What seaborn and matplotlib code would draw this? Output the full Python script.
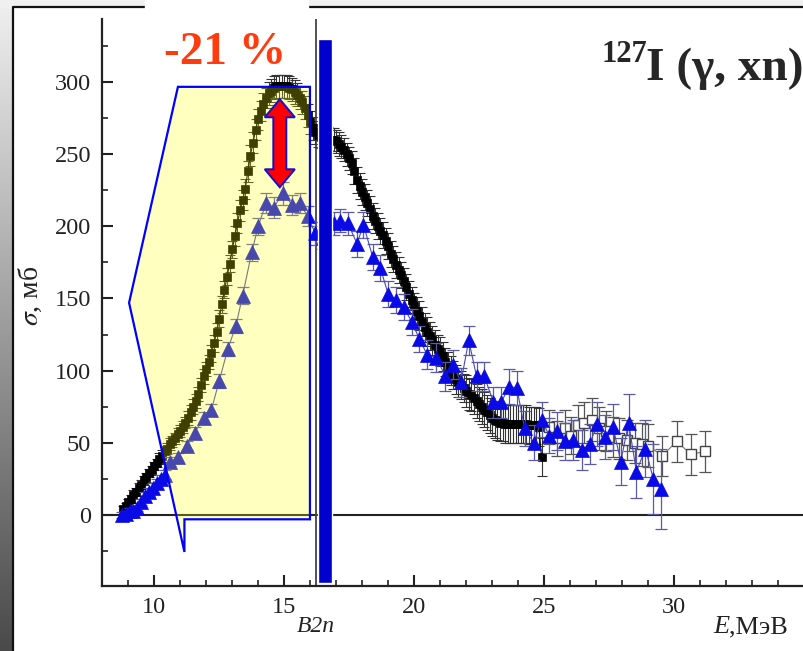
import numpy as np
import matplotlib
matplotlib.use('Agg')
import matplotlib.pyplot as plt
from matplotlib.patches import Polygon, Rectangle
from matplotlib.lines import Line2D
from matplotlib.colors import LinearSegmentedColormap
from matplotlib.ticker import MultipleLocator, FixedLocator
import seaborn as sns

# --- data (E in MeV, sigma in mb) ---
# black filled squares
e_black = [8.8, 8.9, 9.0, 9.1, 9.2, 9.3, 9.4, 9.5, 9.6, 9.7,
           9.8, 9.9, 10.0, 10.1, 10.2, 10.3, 10.4, 10.5, 10.6, 10.7,
           10.8, 10.9, 11.0, 11.1, 11.2, 11.3, 11.4, 11.5, 11.6, 11.7,
           11.8, 11.9, 12.0, 12.1, 12.2, 12.3, 12.4, 12.5, 12.6, 12.7,
           12.8, 12.9, 13.0, 13.1, 13.2, 13.3, 13.4, 13.5, 13.6, 13.7,
           13.8, 13.9, 14.0, 14.1, 14.2, 14.3, 14.4, 14.5, 14.6, 14.7,
           14.8, 14.9, 15.0, 15.1, 15.2, 15.3, 15.4, 15.5, 15.6, 15.7,
           15.8, 15.9, 16.0, 16.1, 16.2, 16.3, 16.4, 16.5, 16.6, 16.7,
           16.8, 16.9, 17.0, 17.1, 17.2, 17.3, 17.4, 17.5, 17.6, 17.7,
           17.8, 17.9, 18.0, 18.1, 18.2, 18.3, 18.4, 18.5, 18.6, 18.7,
           18.8, 18.9, 19.0, 19.1, 19.2, 19.3, 19.4, 19.5, 19.6, 19.7,
           19.8, 19.9, 20.0, 20.1, 20.2, 20.3, 20.4, 20.5, 20.6, 20.7,
           20.8, 20.9, 21.0, 21.1, 21.2, 21.3, 21.4, 21.5, 21.6, 21.7,
           21.8, 21.9, 22.0, 22.1, 22.2, 22.3, 22.4, 22.5, 22.6, 22.7,
           22.8, 22.9, 23.0, 23.1, 23.2, 23.3, 23.4, 23.5, 23.6, 23.7,
           23.8, 23.9, 24.0, 24.1, 24.2, 24.3, 24.4, 24.5, 24.6, 24.7,
           24.8, 24.9]
s_black = [4, 6, 9, 11, 14, 16, 19, 21, 24, 26,
           29, 31, 34, 36, 39, 41, 44, 46, 49, 51,
           53, 56, 58, 61, 64, 67, 71, 75, 79, 84,
           90, 96, 101, 106, 112, 119, 127, 136, 146, 156,
           165, 174, 184, 193, 202, 211, 218, 226, 238, 249,
           258, 267, 274, 280, 285, 289, 292, 294, 296, 297,
           297, 297, 297, 297, 296, 295, 293, 291, 289, 286,
           282, 277, 272, 268, 265, 263, 262, 262, 261, 261,
           260, 260, 259, 257, 255, 253, 250, 247, 244, 238,
           232, 228, 224, 220, 216, 212, 207, 204, 200, 197,
           194, 190, 186, 181, 177, 173, 170, 166, 162, 158,
           153, 149, 145, 141, 138, 134, 130, 127, 124, 121,
           118, 115, 113, 110, 106, 103, 100, 97, 94, 92,
           90, 88, 86, 84, 83, 81, 79, 77, 75, 73,
           71, 69, 67, 66, 65, 64, 64, 63, 63, 63,
           63, 63, 63, 63, 63, 63, 62, 62, 62, 62,
           61, 40]
err_black = [2, 2, 2, 3, 3, 3, 3, 3, 3, 3,
             3, 3, 3, 3, 4, 4, 4, 4, 4, 4,
             4, 4, 4, 4, 4, 5, 5, 5, 5, 5,
             5, 5, 5, 5, 6, 6, 6, 6, 6, 6,
             6, 6, 6, 7, 7, 7, 7, 7, 7, 7,
             7, 7, 7, 7, 7, 7, 8, 8, 8, 8,
             8, 8, 8, 8, 8, 8, 8, 8, 8, 8,
             8, 8, 8, 8, 8, 8, 8, 8, 8, 8,
             8, 8, 8, 8, 8, 8, 8, 8, 8, 9,
             9, 9, 9, 9, 9, 9, 9, 9, 9, 9,
             9, 9, 9, 9, 9, 9, 9, 9, 9, 9,
             9, 9, 9, 10, 10, 10, 10, 10, 10, 10,
             10, 10, 10, 10, 10, 10, 10, 10, 10, 10,
             10, 10, 11, 11, 11, 11, 12, 12, 12, 12,
             12, 12, 12, 13, 13, 13, 13, 13, 13, 13,
             13, 13, 13, 13, 13, 13, 13, 13, 13, 13,
             13, 13]

# open squares
e_open = [25.2, 25.5, 25.8, 26.05, 26.3, 26.55, 26.85, 27.1, 27.4, 27.65,
          27.9, 28.2, 28.5, 28.75, 29.0, 29.55, 30.1, 30.65, 31.2]
s_open = [61, 53, 60, 55, 62, 64, 66, 60, 58, 54,
          53, 52, 50, 49, 48, 41, 51, 42, 44]
err_open = [12, 12, 13, 13, 14, 14, 15, 15, 14, 14,
            14, 14, 14, 15, 15, 14, 14, 14, 14]

# blue triangles
e_tri = [8.75, 8.9, 9.05, 9.2, 9.35, 9.5, 9.65, 9.8, 9.95, 10.1,
         10.25, 10.4, 10.6, 10.9, 11.25, 11.55, 11.9, 12.2, 12.5, 12.83,
         13.14, 13.4, 13.75, 14.0, 14.3, 14.6, 14.95, 15.3, 15.6, 15.9,
         16.2, 16.5, 16.9, 17.15, 17.45, 17.8, 18.05, 18.4, 18.7, 19.0,
         19.3, 19.6, 19.9, 20.2, 20.5, 20.85, 21.2, 21.5, 21.8, 22.1,
         22.4, 22.7, 23.05, 23.35, 23.65, 23.95, 24.25, 24.6, 24.9, 25.2,
         25.5, 25.8, 26.1, 26.45, 26.75, 27.05, 27.35, 27.65, 27.95, 28.25,
         28.55, 28.9, 29.2, 29.5]
s_tri = [0, 1, 3, 3, 5, 9, 13, 16, 19, 22,
         25, 28, 37, 40, 48, 57, 67, 73, 93, 115,
         131, 152, 182, 200, 216, 213, 223, 215, 216, 207,
         195, 192, 202, 204, 202, 188, 201, 179, 171, 153,
         149, 144, 134, 122, 111, 109, 96, 104, 92, 121,
         96, 96, 78, 78, 89, 88, 60, 50, 66, 55,
         58, 51, 52, 45, 49, 63, 54, 61, 37, 64,
         30, 46, 25, 18]
err_tri = [2, 2, 2, 2, 2, 2, 3, 3, 3, 3,
           3, 3, 3, 3, 3, 4, 4, 4, 5, 5,
           5, 6, 6, 6, 7, 7, 8, 7, 7, 7,
           8, 8, 8, 8, 8, 9, 9, 9, 9, 9,
           9, 9, 9, 9, 10, 10, 10, 10, 10, 10,
           10, 10, 11, 11, 12, 12, 12, 12, 12, 12,
           13, 13, 14, 14, 14, 15, 15, 16, 16, 20,
           18, 20, 24, 28]

# annotation geometry (data units)
b2n = 16.24
bar_left, bar_right = 16.30, 16.84
bar_bottom, bar_top = -47, 330
poly_e = [10.91, 15.99, 15.99, 11.16, 11.16, 9.03]
poly_s = [296.6, 296.6, -3.0, -3.0, -25.6, 147.0]
arrow_x, arrow_top, arrow_bottom = 14.83, 288, 227

W, H = 804, 651

sns.set_style('ticks')
plt.rcParams['font.family'] = ['Liberation Serif', 'DejaVu Serif']
plt.rcParams['mathtext.fontset'] = 'stix'

fig = plt.figure(figsize=(W / 100, H / 100), dpi=100)

# slide background: grey strip at left and top, black frame
gax = fig.add_axes([0, 0, 13 / W, 1], zorder=-1)
grad = np.linspace(0, 1, 256).reshape(-1, 1)
gax.imshow(grad, aspect='auto', cmap=LinearSegmentedColormap.from_list('g', ['#f0f0f0', '#4a4a4a']))
gax.axis('off')
fig.add_artist(Rectangle((0, 1 - 7 / H), 1, 7 / H, transform=fig.transFigure,
                         color='#f0f0f0', zorder=1))
fig.add_artist(Line2D([13 / W, 13 / W, 1], [0, 1 - 7 / H, 1 - 7 / H],
                      transform=fig.transFigure, color='#111', lw=1.6, zorder=2))
fig.add_artist(Rectangle((145 / W, 1 - 16 / H), 163 / W, 16 / H, transform=fig.transFigure,
                         color='white', zorder=3))

ax = fig.add_axes([102.3 / W, 1 - 585.7 / H, (W - 102.3) / W, (585.7 - 19) / H])
ax.set_xlim(8, 35)
ax.set_ylim(-49, 343.6)

ax.axhline(0, color='#222', lw=1.5, zorder=1)
ax.axvline(b2n, color='#444', lw=1.3, zorder=1)

# black squares
ax.errorbar(e_black, s_black, yerr=err_black, fmt='none', ecolor='#333',
            elinewidth=0.8, capsize=3.5, capthick=0.8, zorder=2)
sns.lineplot(x=e_black, y=s_black, ax=ax, color='black', lw=0.8, marker='s',
             markersize=6.2, markeredgecolor='black', markeredgewidth=0.5, zorder=3)

# open squares
ax.errorbar(e_open, s_open, yerr=err_open, fmt='none', ecolor='#555',
            elinewidth=0.9, capsize=4, capthick=0.9, zorder=2)
sns.lineplot(x=e_open, y=s_open, ax=ax, color='#777', lw=0.8, marker='s',
             markersize=7, markerfacecolor='white', markeredgecolor='#444',
             markeredgewidth=1, zorder=3)

# blue triangles
ax.errorbar(e_tri, s_tri, yerr=err_tri, fmt='none', ecolor='#5a5aa8',
            elinewidth=0.9, capsize=4, capthick=0.9, zorder=3)
sns.lineplot(x=e_tri, y=s_tri, ax=ax, color='#4b4bb0', lw=0.8, marker='^',
             markersize=9.5, markerfacecolor='#0a0ae6', markeredgecolor='#0a0ae6',
             markeredgewidth=0.5, zorder=3)

# yellow region with blue outline
verts = np.column_stack([poly_e, poly_s])
ax.add_patch(Polygon(verts, closed=True, facecolor='yellow', alpha=0.25,
                     edgecolor='none', zorder=4))
ax.add_patch(Polygon(verts, closed=True, fill=False, edgecolor='#0000ff',
                     lw=1.6, zorder=5))

# thick blue bar at B2n
ax.bar((bar_left + bar_right) / 2, bar_top - bar_bottom, bottom=bar_bottom,
       width=bar_right - bar_left, color='#0000cc', zorder=5)

# red double arrow
hw, sw, hl = 0.58, 0.25, 12.5
ax_ = [arrow_x, arrow_x + hw, arrow_x + sw, arrow_x + sw, arrow_x + hw,
       arrow_x, arrow_x - hw, arrow_x - sw, arrow_x - sw, arrow_x - hw]
ay_ = [arrow_top, arrow_top - hl, arrow_top - hl, arrow_bottom + hl, arrow_bottom + hl,
       arrow_bottom, arrow_bottom + hl, arrow_bottom + hl, arrow_top - hl, arrow_top - hl]
ax.add_patch(Polygon(np.column_stack([ax_, ay_]), closed=True, facecolor='#ff0000',
                     edgecolor='#1010d0', lw=1.4, zorder=6))

# axes styling
sns.despine(ax=ax)
for s in ['left', 'bottom']:
    ax.spines[s].set_linewidth(1.6)
    ax.spines[s].set_color('#222')
ax.xaxis.set_major_locator(FixedLocator([10, 15, 20, 25, 30]))
ax.xaxis.set_minor_locator(MultipleLocator(1))
ax.yaxis.set_major_locator(MultipleLocator(50))
ax.yaxis.set_minor_locator(MultipleLocator(25))
ax.tick_params(which='major', direction='in', length=8, width=1.5, labelsize=17.5,
               pad=8, color='#222', labelcolor='#222')
ax.tick_params(which='minor', direction='in', length=4.5, width=1.2, color='#222')
ax.set_xlabel('')
ax.set_ylabel('')

# texts
fig.text(225 / W, 1 - 64 / H, '-21 %', color='#ff3c10', fontsize=34,
         fontweight='bold', ha='center', va='baseline', zorder=10)
fig.text(602 / W, 1 - 62 / H, '127', fontsize=22, fontweight='bold',
         ha='left', va='baseline')
fig.text(646 / W, 1 - 80 / H, 'I (γ, xn)', fontsize=34, fontweight='bold',
         ha='left', va='baseline')
fig.text(316 / W, 1 - 627 / H, 'B2n', style='italic', fontsize=17,
         ha='center', va='center', color='#222')
fig.text(713 / W, 1 - 627 / H, 'E', style='italic', fontsize=19,
         ha='left', va='center', color='#222')
fig.text(729 / W, 1 - 627 / H, ',МэВ', fontsize=19, ha='left', va='center', color='#222')
fig.text(30 / W, 1 - 296 / H, r'$\sigma$, мб', rotation=90, fontsize=20,
         ha='center', va='center', color='#222')

fig.savefig('out.png', dpi=100)
